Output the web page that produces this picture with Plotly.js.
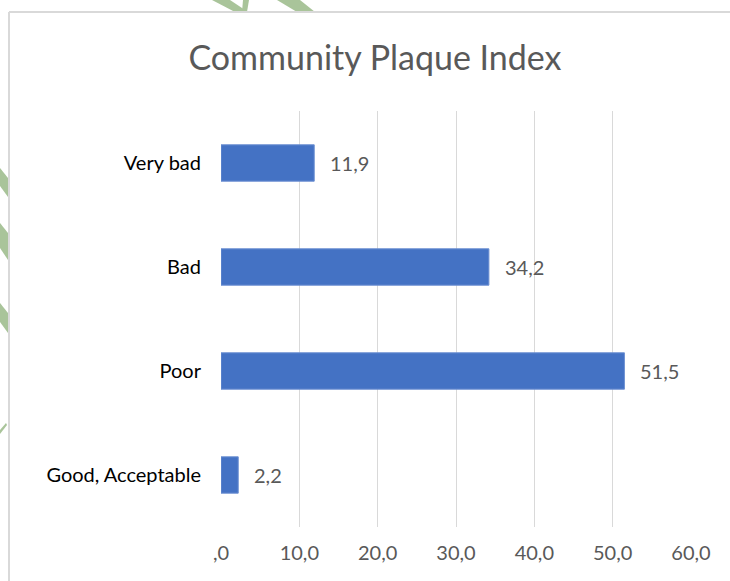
<!DOCTYPE html>
<html>
<head>
<meta charset="utf-8">
<script src="https://cdn.plot.ly/plotly-3.0.1.min.js"></script>
<style>html,body{margin:0;padding:0;background:#fff;}#chart{width:730px;height:581px;}</style>
</head>
<body>
<div id="chart"></div>
<script>
// Data (top to bottom as displayed)
var categories = ["Very bad", "Bad", "Poor", "Good, Acceptable"];
var values = [11.9, 34.2, 51.5, 2.2];
var tickValues = [0, 10, 20, 30, 40, 50, 60];
var tickLabels = [",0", "10,0", "20,0", "30,0", "40,0", "50,0", "60,0"];
var titleText = "Community Plaque Index";

// pixel -> paper helpers for decoration (plot area 221..691 x, 111..527 y)
var L = 221, R = 691, T = 111, B = 527;
function px(x){ return (x - L) / (R - L); }
function py(y){ return (B - y) / (B - T); }
function poly(pts){
  return 'M' + pts.map(function(p){ return px(p[0]) + ',' + py(p[1]); }).join(' L') + ' Z';
}
var green = '#a9c49a';
var shapes = [
  // watermark fragments
  {type:'path', xref:'paper', yref:'paper', path: poly([[212,0],[230,0],[248,12],[235,12]]), fillcolor: green, line:{width:0}, layer:'below'},
  {type:'path', xref:'paper', yref:'paper', path: poly([[243,0],[249,0],[247,12],[242,12]]), fillcolor: green, line:{width:0}, layer:'below'},
  {type:'path', xref:'paper', yref:'paper', path: poly([[277,0],[300,0],[315,12],[297,12]]), fillcolor: green, line:{width:0}, layer:'below'},
  {type:'path', xref:'paper', yref:'paper', path: poly([[0,168],[8,178],[8,197],[0,186]]), fillcolor: green, line:{width:0}, layer:'below'},
  {type:'path', xref:'paper', yref:'paper', path: poly([[0,223],[8,233],[8,260],[0,248]]), fillcolor: green, line:{width:0}, layer:'below'},
  {type:'path', xref:'paper', yref:'paper', path: poly([[0,303],[8,313],[8,333],[0,322]]), fillcolor: green, line:{width:0}, layer:'below'},
  {type:'path', xref:'paper', yref:'paper', path: poly([[0,430],[6,423],[7,425],[0,434]]), fillcolor: green, line:{width:0}, layer:'below'},
  // chart frame (cropped)
  {type:'line', xref:'paper', yref:'paper', x0: px(9), x1: px(9), y0: py(12), y1: py(581), line:{color:'#d9d9d9', width:2}},
  {type:'line', xref:'paper', yref:'paper', x0: px(9), x1: px(730), y0: py(12), y1: py(12), line:{color:'#d9d9d9', width:2}}
];

var annotations = values.map(function(v, i){
  return {x: v, y: categories[i], xref:'x', yref:'y', text: v.toFixed(1).replace('.', ','),
    showarrow:false, xanchor:'left', yanchor:'middle', xshift: 14,
    font:{family:'Lato, sans-serif', size:20, color:'#595959'}};
});

var data = [{
  type:'bar', orientation:'h', x: values, y: categories,
  width: 0.35,
  marker:{color:'#4472c4', line:{color:'#6d90d2', width:1}},
  hoverinfo:'none'
}];

var layout = {
  width:730, height:581,
  paper_bgcolor:'#ffffff', plot_bgcolor:'#ffffff',
  margin:{l:L, r:730-R, t:T, b:581-B, pad:0},
  title:{text: titleText, xref:'container', yref:'container', x: 375/730, xanchor:'center', y: 1-58/581, yanchor:'middle',
    font:{family:'Lato, sans-serif', size:34, color:'#595959'}},
  xaxis:{range:[0,60], tickmode:'array', tickvals: tickValues, ticktext: tickLabels,
    showgrid:true, gridcolor:'#d9d9d9', gridwidth:1, zeroline:false, showline:false,
    ticks:'', ticklabelstandoff: 12,
    tickfont:{family:'Lato, sans-serif', size:20, color:'#595959'}, fixedrange:true},
  yaxis:{type:'category', autorange:'reversed', showgrid:false, zeroline:false, showline:false,
    ticks:'', ticklabelstandoff: 19,
    tickfont:{family:'Lato, sans-serif', size:20, color:'#000000'}, fixedrange:true},
  showlegend:false,
  bargap:0.65,
  shapes: shapes,
  annotations: annotations
};

Plotly.newPlot('chart', data, layout, {displayModeBar:false, staticPlot:true});
</script>
</body>
</html>
